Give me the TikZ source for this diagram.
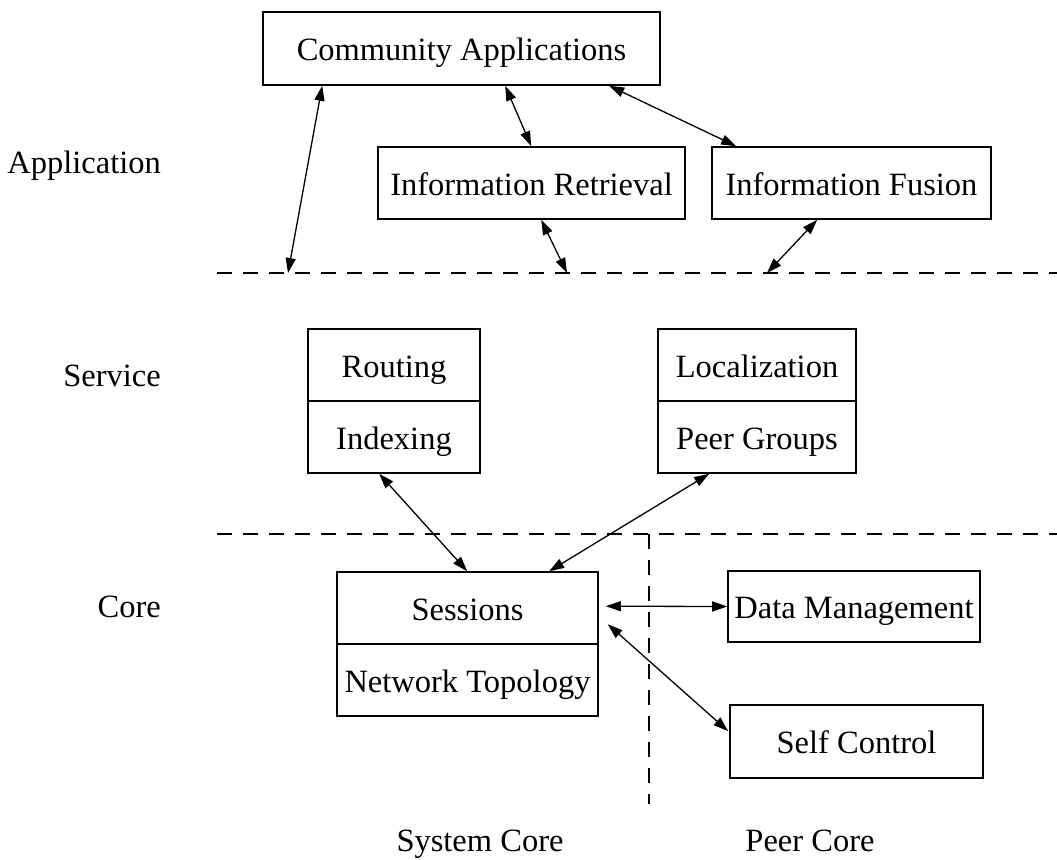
\documentclass[tikz,border=0pt]{standalone}
\usepackage{fontspec}
\setmainfont{Liberation Serif}
\usetikzlibrary{arrows.meta,calc}
\begin{document}
\begin{tikzpicture}[x=1pt,y=-1pt,
  every node/.style={font=\fontsize{32.5}{38}\selectfont},
  layerbox/.style={draw,line width=1.6pt,inner sep=0pt,text height=24pt,text depth=0pt,
    minimum height=72pt},
  biarrow/.style={line width=1.3pt,{Triangle[length=15pt,width=10pt]}-{Triangle[length=15pt,width=10pt]}},
  divider/.style={line width=1.4pt,dash pattern=on 15pt off 11pt},
  layerlabel/.style={anchor=base east,inner sep=0pt},
  corelabel/.style={anchor=base,inner sep=0pt}]
\useasboundingbox (0,0) rectangle (1057,859);

% layer separators
\draw[divider] (217,273) -- (1057,273);
\draw[divider] (217,534) -- (1057,534);
\draw[divider] (649,534) -- (649,804);
\coordinate (d1) at (288,273);
\coordinate (d2) at (567,273);
\coordinate (d3) at (767,273);

% layer names
\node[layerlabel] (lapp) at (161,173) {Application};
\node[layerlabel] (lsrv) at (161,386) {Service};
\node[layerlabel] (lcore) at (161,617) {Core};
\node[corelabel] (lsys) at (480,851) {System Core};
\node[corelabel] (lpeer) at (810,851) {Peer Core};

% application layer
\node[layerbox,minimum width=397pt,minimum height=73pt] (ca) at (461.5,48.5) {Community Applications};
\node[layerbox,minimum width=307pt] (ir) at (531.5,183) {Information Retrieval};
\node[layerbox,minimum width=279pt] (if) at (851.5,183) {Information Fusion};

% service layer
\node[layerbox,minimum width=172pt] (rt) at (394,365) {Routing};
\node[layerbox,minimum width=172pt] (ix) at (394,437) {Indexing};
\node[layerbox,minimum width=198pt] (lo) at (757,365) {Localization};
\node[layerbox,minimum width=198pt] (pg) at (757,437) {Peer Groups};

% core layer
\node[layerbox,minimum width=261pt] (se) at (467.5,608) {Sessions};
\node[layerbox,minimum width=261pt] (nt) at (467.5,680) {Network Topology};
\node[layerbox,minimum width=252pt,minimum height=71pt] (dm) at (854,606.5) {Data Management};
\node[layerbox,minimum width=253pt,minimum height=73pt] (sc) at (856.5,741.5) {Self Control};

% connections
\draw[biarrow] ([xshift=60pt]ca.south west) -- (d1);
\draw[biarrow] ([xshift=243pt]ca.south west) -- ([xshift=154pt]ir.north west);
\draw[biarrow] ([xshift=347pt]ca.south west) -- ([xshift=25pt]if.north west);
\draw[biarrow] ([xshift=164pt]ir.south west) -- (d2);
\draw[biarrow] ([xshift=106pt]if.south west) -- (d3);
\draw[biarrow] ([xshift=72pt]ix.south west) -- ([xshift=131pt]se.north west);
\draw[biarrow] ([xshift=52pt]pg.south west) -- ([xshift=213pt]se.north west);
\draw[biarrow] ([xshift=7pt,yshift=-35pt]se.north east) -- (dm.west);
\draw[biarrow] ([xshift=9pt,yshift=-53pt]se.north east) -- ([xshift=-1pt,yshift=-27pt]sc.north west);
\end{tikzpicture}
\end{document}
